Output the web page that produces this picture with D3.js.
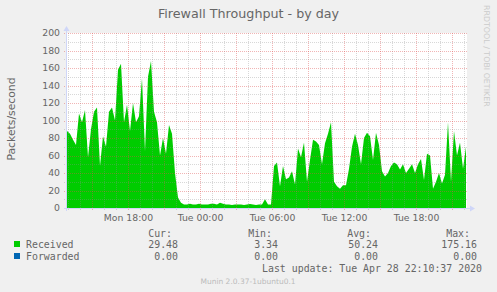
<!DOCTYPE html>
<html>
<head>
<meta charset="utf-8">
<script src="https://cdn.jsdelivr.net/npm/d3@7"></script>
<style>
  html, body { margin: 0; padding: 0; background: #F0F0F0; }
  svg { display: block; }
</style>
</head>
<body>
<div id="chart"></div>
<script>
// time window of the munin "day" graph, one value every 15 minutes
var startTime = new Date(2020, 3, 27, 12, 55);
var endTime = new Date(2020, 3, 28, 22, 15);
var stepMinutes = 15;

// packets/second
var received = [
  88, 85, 78, 72, 108, 98, 112, 58, 90, 110, 115, 48, 82, 70, 110, 115, 100, 158, 165, 98,
  118, 88, 120, 98, 105, 148, 65, 150, 168, 110, 98, 60, 80, 62, 95, 85, 40, 12, 6, 4,
  4, 5, 4, 4, 5, 4, 4, 4, 5, 5, 4, 6, 5, 4, 4, 3.5, 4, 4, 4, 3.5,
  4, 4.5, 4, 3.5, 4, 4, 10, 4, 4, 48, 52, 25, 48, 33, 35, 42, 27, 68, 58, 75,
  30, 55, 78, 76, 72, 50, 74, 85, 98, 30, 25, 22, 26, 26, 45, 70, 85, 72, 50, 80,
  86, 82, 55, 86, 72, 42, 36, 40, 48, 52, 50, 44, 50, 40, 45, 50, 40, 50, 56, 32,
  62, 60, 22, 30, 40, 28, 38, 98, 30, 88, 60, 75, 45, 70
];

var yTicks = [0, 20, 40, 60, 80, 100, 120, 140, 160, 180, 200];
var xLabelTimes = [
  new Date(2020, 3, 27, 18, 0), new Date(2020, 3, 28, 0, 0), new Date(2020, 3, 28, 6, 0),
  new Date(2020, 3, 28, 12, 0), new Date(2020, 3, 28, 18, 0)
];
var xLabelTexts = ['Mon 18:00', 'Tue 00:00', 'Tue 06:00', 'Tue 12:00', 'Tue 18:00'];

var legendNames = ['Received', 'Forwarded'];
var legendColors = ['#00CC00', '#0066B3'];
var legendHeads = ['Cur:', 'Min:', 'Avg:', 'Max:'];
var curValues = ['29.48', '0.00'];
var minValues = ['3.34', '0.00'];
var avgValues = ['50.24', '0.00'];
var maxValues = ['175.16', '0.00'];

var width = 497, height = 292;
var fontSans = "'DejaVu Sans', sans-serif";
var fontMono = "'DejaVu Sans Mono', monospace";
var fontColor = '#666666';
var minorColor = 'rgba(143,143,143,0.35)';
var majorColor = 'rgba(222,79,79,0.42)';

var svg = d3.select('#chart').append('svg')
  .attr('width', width)
  .attr('height', height);

svg.append('rect').attr('width', width).attr('height', height).attr('fill', '#F0F0F0');

var x = d3.scaleTime().domain([startTime, endTime]).range([67, 467]);
var y = d3.scaleLinear().domain([0, 200]).range([208, 33]);

// canvas
svg.append('rect')
  .attr('x', x.range()[0]).attr('y', y(200))
  .attr('width', x.range()[1] - x.range()[0])
  .attr('height', y(0) - y(200))
  .attr('fill', '#FFFFFF');

var points = received.map(function(v, i) {
  return { t: new Date(startTime.getTime() + i * stepMinutes * 60000), v: v };
});

var area = d3.area()
  .x(function(d) { return x(d.t); })
  .y0(y(0))
  .y1(function(d) { return y(d.v); });

svg.append('path')
  .datum(points)
  .attr('d', area)
  .attr('fill', '#00CC00');

// grid (drawn over the area like rrdtool does)
var crisp = function(p) { return Math.round(p) + 0.5; };
var hours = d3.timeHour.range(d3.timeHour.ceil(startTime), endTime);
var grid = svg.append('g');

grid.selectAll('line.vx')
  .data(hours)
  .enter().append('line')
  .attr('x1', function(d) { return crisp(x(d)); })
  .attr('x2', function(d) { return crisp(x(d)); })
  .attr('y1', y(200)).attr('y2', y(0) + 3)
  .attr('stroke', function(d) { return d.getHours() % 3 === 0 ? majorColor : minorColor; })
  .attr('stroke-dasharray', '1,1');

var yMinor = d3.range(10, 201, 10);
grid.selectAll('line.hy')
  .data(yMinor)
  .enter().append('line')
  .attr('x1', x.range()[0] - 3).attr('x2', x.range()[1])
  .attr('y1', function(d) { return crisp(y(d)); })
  .attr('y2', function(d) { return crisp(y(d)); })
  .attr('stroke', function(d) { return d % 20 === 0 ? majorColor : minorColor; })
  .attr('stroke-dasharray', '1,1');

// axes
var axisColor = '#CFD6F8';
svg.append('line')
  .attr('x1', 64).attr('x2', 471)
  .attr('y1', crisp(y(0))).attr('y2', crisp(y(0)))
  .attr('stroke', axisColor);
svg.append('line')
  .attr('x1', 66.5).attr('x2', 66.5)
  .attr('y1', 211).attr('y2', 29)
  .attr('stroke', axisColor);
svg.append('path')
  .attr('d', 'M470,205.5 L475,208.5 L470,211.5 Z')
  .attr('fill', axisColor);
svg.append('path')
  .attr('d', 'M63.5,31 L66.5,26 L69.5,31 Z')
  .attr('fill', axisColor);

// y labels
svg.selectAll('text.ylab')
  .data(yTicks)
  .enter().append('text')
  .attr('x', 60)
  .attr('y', function(d) { return y(d) + 3.4; })
  .attr('text-anchor', 'end')
  .attr('font-family', fontSans)
  .attr('font-size', '9.3px')
  .attr('fill', fontColor)
  .text(function(d) { return d; });

// x labels
svg.selectAll('text.xlab')
  .data(xLabelTimes)
  .enter().append('text')
  .attr('x', function(d) { return x(d) + 0.5; })
  .attr('y', 220.7)
  .attr('text-anchor', 'middle')
  .attr('font-family', fontSans)
  .attr('font-size', '9.3px')
  .attr('fill', fontColor)
  .text(function(d, i) { return xLabelTexts[i]; });

// title
svg.append('text')
  .attr('x', 248.5).attr('y', 18.3)
  .attr('text-anchor', 'middle')
  .attr('font-family', fontSans)
  .attr('font-size', '12.7px')
  .attr('fill', fontColor)
  .text('Firewall Throughput - by day');

// vertical label
svg.append('text')
  .attr('transform', 'translate(15,119) rotate(-90)')
  .attr('text-anchor', 'middle')
  .attr('font-family', fontSans)
  .attr('font-size', '10.8px')
  .attr('fill', fontColor)
  .text('Packets/second');

// watermark
svg.append('text')
  .attr('transform', 'translate(484,5) rotate(90)')
  .attr('font-family', fontSans)
  .attr('font-size', '7.9px')
  .attr('fill', '#CBCBCB')
  .text('RRDTOOL / TOBI OETIKER');

// legend
var legend = svg.append('g')
  .attr('font-family', fontMono)
  .attr('font-size', '9.9px')
  .attr('fill', fontColor);

var headX = [172, 272, 371, 470];
legend.selectAll('text.head')
  .data(legendHeads)
  .enter().append('text')
  .attr('x', function(d, i) { return headX[i]; })
  .attr('y', 236.7)
  .attr('text-anchor', 'end')
  .text(function(d) { return d; });

var rows = legend.selectAll('g.row')
  .data(legendNames)
  .enter().append('g')
  .attr('transform', function(d, i) { return 'translate(0,' + (i * 12) + ')'; });

rows.append('rect')
  .attr('x', 14).attr('y', 241)
  .attr('width', 6).attr('height', 6)
  .attr('fill', function(d, i) { return legendColors[i]; });

rows.append('text')
  .attr('x', 26).attr('y', 247.7)
  .text(function(d) { return d; });

var valueCols = [curValues, minValues, avgValues, maxValues];
var valueX = [178, 278, 378, 477];
valueCols.forEach(function(col, c) {
  rows.append('text')
    .attr('x', valueX[c]).attr('y', 247.7)
    .attr('text-anchor', 'end')
    .text(function(d, i) { return col[i]; });
});

legend.append('text')
  .attr('x', 482).attr('y', 271.7)
  .attr('text-anchor', 'end')
  .text('Last update: Tue Apr 28 22:10:37 2020');

svg.append('text')
  .attr('x', 248).attr('y', 284)
  .attr('text-anchor', 'middle')
  .attr('font-family', fontSans)
  .attr('font-size', '7.5px')
  .attr('fill', '#BBBBBB')
  .text('Munin 2.0.37-1ubuntu0.1');
</script>
</body>
</html>
